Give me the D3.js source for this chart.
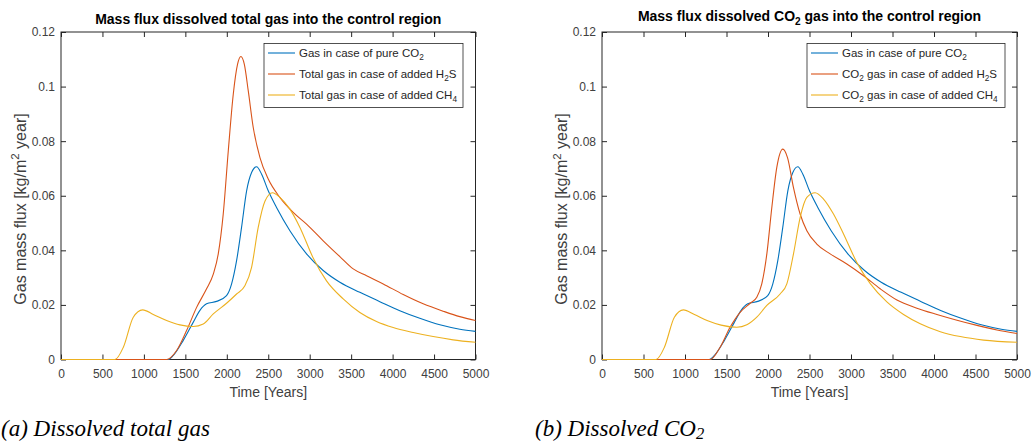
<!DOCTYPE html>
<html>
<head>
<meta charset="utf-8">
<script src="https://cdnjs.cloudflare.com/ajax/libs/d3/7.8.5/d3.min.js"></script>
<style>
  body { margin: 0; background: #fff; }
  svg { display: block; font-family: "Liberation Sans", Arial, sans-serif; }
</style>
</head>
<body>
<div id="chart"></div>
<script>
// ******************** DATA ********************

// x / y ticks shared by both panels
const xTicks = [0, 500, 1000, 1500, 2000, 2500, 3000, 3500, 4000, 4500, 5000]
const yTicks = [0, 0.02, 0.04, 0.06, 0.08, 0.1, 0.12]
const yTickLabels = ["0", "0.02", "0.04", "0.06", "0.08", "0.1", "0.12"]

// [year, flux] - pure CO2 (same run in both panels)
const pureCO2 = [[0,0],[1290,0],[1355,0.0015],[1475,0.007],[1596,0.0137],[1676,0.018],[1756,0.0204],
  [1877,0.0213],[1997,0.0234],[2058,0.0277],[2118,0.0362],[2178,0.0484],[2239,0.0618],[2299,0.0685],
  [2359,0.0706],[2420,0.0679],[2500,0.0618],[2600,0.0557],[2761,0.0472],[2962,0.0387],[3163,0.0326],
  [3364,0.0283],[3605,0.0246],[3846,0.0212],[4087,0.0179],[4328,0.0151],[4570,0.0127],[4811,0.0111],[5000,0.0103]]

// panel (a): total gas with added H2S
const totalH2S = [[0,0],[1274,0],[1395,0.0033],[1515,0.0106],[1636,0.0191],[1756,0.0259],[1837,0.0313],
  [1897,0.0387],[1957,0.0533],[2018,0.0765],[2078,0.0972],[2130,0.1082],[2170,0.111],[2211,0.1082],
  [2259,0.0984],[2319,0.085],[2400,0.074],[2500,0.0661],[2640,0.0594],[2801,0.0539],[2962,0.0496],
  [3163,0.0435],[3364,0.0377],[3525,0.0332],[3686,0.0307],[3887,0.0277],[4128,0.0238],[4369,0.0204],
  [4610,0.0177],[4811,0.0157],[5000,0.0143]]

// panel (a): total gas with added CH4
const totalCH4 = [[0,0],[651,0],[752,0.0045],[872,0.0155],[985,0.0182],[1113,0.0165],[1274,0.0143],
  [1435,0.0127],[1596,0.0121],[1716,0.013],[1837,0.0167],[1997,0.0206],[2118,0.024],[2218,0.027],
  [2299,0.0338],[2379,0.0484],[2460,0.058],[2552,0.0611],[2640,0.0594],[2761,0.0551],[2882,0.0484],
  [3042,0.0372],[3203,0.0288],[3404,0.0222],[3605,0.0172],[3806,0.0139],[4007,0.0117],[4248,0.0099],
  [4489,0.0084],[4730,0.0072],[5000,0.0063]]

// panel (b): CO2 gas with added H2S
const co2H2S = [[0,0],[1302,0],[1423,0.0045],[1543,0.0118],[1664,0.0173],[1785,0.0206],[1865,0.0228],
  [1925,0.0277],[1986,0.0387],[2046,0.0557],[2106,0.0704],[2178,0.0771],[2235,0.074],[2307,0.063],
  [2387,0.0533],[2468,0.0472],[2588,0.0423],[2749,0.0387],[2950,0.035],[3151,0.0307],[3352,0.0259],
  [3553,0.0218],[3794,0.0188],[4035,0.0165],[4277,0.0144],[4518,0.0125],[4759,0.0108],[5000,0.0095]]

// panel (b): CO2 gas with added CH4
const co2CH4 = [[0,0],[651,0],[752,0.0045],[872,0.0155],[981,0.0182],[1113,0.0165],[1274,0.0142],
  [1435,0.0126],[1624,0.0118],[1745,0.0127],[1865,0.0155],[1986,0.0198],[2146,0.024],[2227,0.0277],
  [2307,0.0387],[2387,0.052],[2468,0.0594],[2568,0.0611],[2669,0.0588],[2789,0.0533],[2910,0.046],
  [3071,0.0355],[3232,0.0278],[3432,0.0211],[3633,0.0165],[3834,0.0131],[4076,0.0102],[4317,0.0084],
  [4598,0.0071],[5000,0.0063]]

// legend texts ("_x" = subscript, "^x" = superscript)
const legendA = ["Gas in case of pure CO_2", "Total gas in case of added H_2S", "Total gas in case of added CH_4"]
const legendB = ["Gas in case of pure CO_2", "CO_2 gas in case of added H_2S", "CO_2 gas in case of added CH_4"]

// matlab default line colors
const colors = ["#0072BD", "#D95319", "#EDB120"]

// ******************** LAYOUT ********************
const width = 1035
const height = 446
const plotTop = 32
const plotBottom = 359.5

const svg = d3.select("#chart").append("svg")
  .attr("width", width)
  .attr("height", height)

// writes text with simple sub/superscripts
const richText = (sel, str, size, subShift = 0.3) => {
  const parts = str.split(/([_^].)/).filter((p) => p !== "")
  let shift = 0
  parts.forEach((p) => {
    if (p[0] === "_" || p[0] === "^") {
      const off = p[0] === "_" ? size * subShift : -size * 0.4
      sel.append("tspan").attr("dy", off - shift).attr("font-size", size * 0.72).text(p[1])
      shift = off
    } else {
      sel.append("tspan").attr("dy", -shift).text(p)
      shift = 0
    }
  })
}

const drawPanel = (p) => {
  const x = d3.scaleLinear().domain([0, 5000]).range([p.x0, p.x1])
  const y = d3.scaleLinear().domain([0, 0.12]).range([plotBottom, plotTop])
  const g = svg.append("g")

  // box
  g.append("rect")
    .attr("x", p.x0)
    .attr("y", plotTop)
    .attr("width", p.x1 - p.x0)
    .attr("height", plotBottom - plotTop)
    .attr("fill", "none")
    .attr("stroke", "#262626")
    .attr("stroke-width", 1)

  // axes, ticks pointing inwards
  g.append("g")
    .attr("transform", "translate(0," + plotBottom + ")")
    .call(d3.axisBottom(x).tickValues(xTicks).tickSize(-5).tickPadding(10).tickFormat(d3.format("d")))
  g.append("g")
    .attr("transform", "translate(0," + plotTop + ")")
    .call(d3.axisTop(x).tickValues(xTicks).tickSize(-5).tickFormat(""))
  g.append("g")
    .attr("transform", "translate(" + p.x0 + ",0)")
    .call(d3.axisLeft(y).tickValues(yTicks).tickSize(-5).tickPadding(6).tickFormat((d, i) => yTickLabels[i]))
  g.append("g")
    .attr("transform", "translate(" + p.x1 + ",0)")
    .call(d3.axisRight(y).tickValues(yTicks).tickSize(-5).tickFormat(""))

  g.selectAll(".domain").remove()
  g.selectAll(".tick line").attr("stroke", "#262626")
  g.selectAll(".tick text")
    .attr("fill", "#404040")
    .attr("font-size", 12)
    .attr("font-family", "Liberation Sans, Arial, sans-serif")

  // lines (drawn over the axis box, like the original)
  const line = d3.line()
    .x((d) => x(d[0]))
    .y((d) => y(d[1]))
    .curve(d3.curveMonotoneX)

  p.series.forEach((s, i) => {
    g.append("path")
      .datum(s)
      .attr("fill", "none")
      .attr("stroke", colors[i])
      .attr("stroke-width", 1.1)
      .attr("d", line)
  })

  // title
  const title = g.append("text")
    .attr("x", (p.x0 + p.x1) / 2)
    .attr("y", p.titleY)
    .attr("text-anchor", "middle")
    .attr("font-size", 14)
    .attr("font-weight", "bold")
    .attr("fill", "#000")
  richText(title, p.title, 14)

  // x label
  g.append("text")
    .attr("x", (p.x0 + p.x1) / 2)
    .attr("y", 397)
    .attr("text-anchor", "middle")
    .attr("font-size", 14)
    .attr("fill", "#404040")
    .text("Time [Years]")

  // y label
  const yl = g.append("text")
    .attr("transform", "translate(" + p.ylabelX + ",209) rotate(-90)")
    .attr("text-anchor", "middle")
    .attr("font-size", 16)
    .attr("fill", "#404040")
  richText(yl, "Gas mass flux [kg/m^2 year]", 16)

  // legend
  const lg = g.append("g").attr("transform", "translate(" + p.legendX + ",43.5)")
  lg.append("rect")
    .attr("width", p.legendW)
    .attr("height", 64)
    .attr("fill", "#fff")
    .attr("stroke", "#262626")
    .attr("stroke-width", 0.8)
  p.legend.forEach((t, i) => {
    const ly = 9.5 + i * 21
    lg.append("line")
      .attr("x1", 4).attr("x2", 31)
      .attr("y1", ly).attr("y2", ly)
      .attr("stroke", colors[i])
      .attr("stroke-width", 1.1)
    const tx = lg.append("text")
      .attr("x", 35)
      .attr("y", ly + 4)
      .attr("font-size", 11.5)
      .attr("fill", "#262626")
    richText(tx, t, 11.5)
  })

  // caption
  const cap = svg.append("text")
    .attr("x", p.capX)
    .attr("y", 436)
    .attr("font-family", "Liberation Serif, serif")
    .attr("font-style", "italic")
    .attr("font-size", 23)
    .attr("fill", "#000")
  richText(cap, p.caption, 23, 0.15)
}

drawPanel({
  x0: 61, x1: 475.5, titleY: 24,
  title: "Mass flux dissolved total gas into the control region",
  series: [pureCO2, totalH2S, totalCH4],
  legend: legendA, legendX: 264, legendW: 199,
  ylabelX: 25.5, capX: 1, caption: "(a) Dissolved total gas"
})

drawPanel({
  x0: 602, x1: 1017, titleY: 20.5,
  title: "Mass flux dissolved CO_2 gas into the control region",
  series: [pureCO2, co2H2S, co2CH4],
  legend: legendB, legendX: 807, legendW: 198,
  ylabelX: 567, capX: 535, caption: "(b) Dissolved CO_2"
})
</script>
</body>
</html>
